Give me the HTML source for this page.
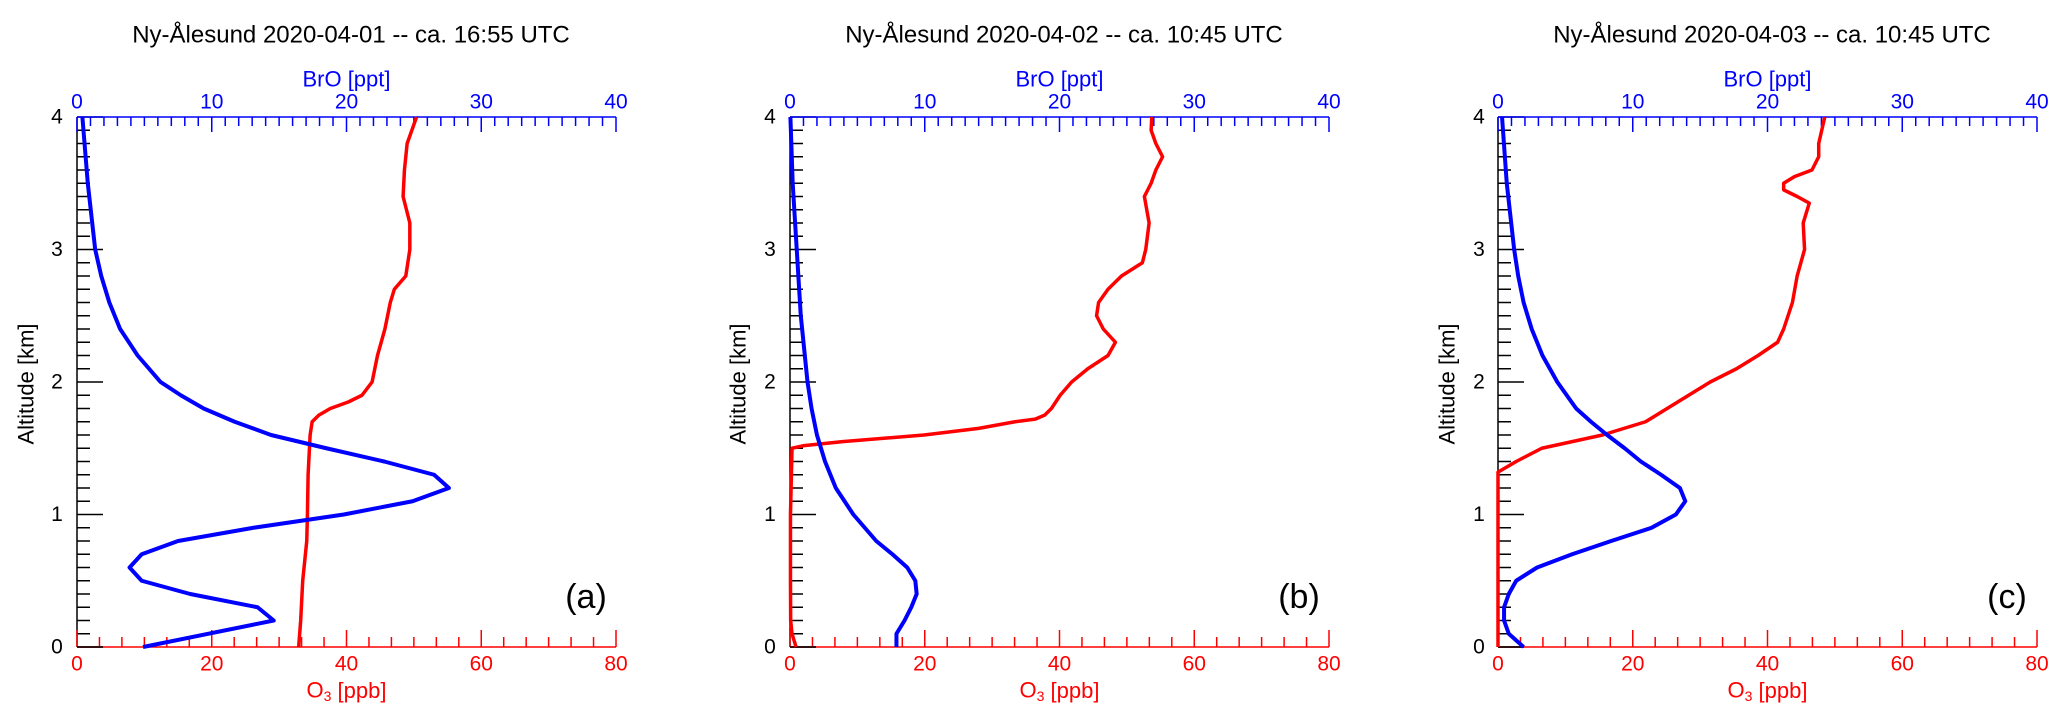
<!DOCTYPE html>
<html><head><meta charset="utf-8"><style>
html,body{margin:0;padding:0;background:#fff}
svg{display:block;font-family:"Liberation Sans",Arial,sans-serif}
</style></head><body>
<svg id="chart" width="2067" height="721" viewBox="0 0 2067 721" xmlns="http://www.w3.org/2000/svg"></svg>
<script>
const panelTitles = ["Ny-Ålesund 2020-04-01 -- ca. 16:55 UTC","Ny-Ålesund 2020-04-02 -- ca. 10:45 UTC","Ny-Ålesund 2020-04-03 -- ca. 10:45 UTC"];
const panelLetters = ["(a)","(b)","(c)"];
const altTicks = [0,1,2,3,4];
const broTicks = [0,10,20,30,40];
const o3Ticks = [0,20,40,60,80];

const broAltA = [0,0.2,0.3,0.4,0.5,0.6,0.7,0.8,0.9,1.0,1.1,1.2,1.3,1.4,1.5,1.6,1.7,1.8,1.9,2.0,2.2,2.4,2.6,2.8,3.0,3.5,4.0];
const broValA = [4.9,14.6,13.4,8.4,4.8,3.9,4.8,7.5,13.1,19.8,24.9,27.6,26.5,22.8,18.5,14.4,11.7,9.4,7.7,6.2,4.5,3.2,2.4,1.8,1.35,0.8,0.4];
const o3AltA = [0,0.2,0.5,0.8,1.0,1.3,1.6,1.7,1.75,1.8,1.85,1.9,2.0,2.2,2.4,2.6,2.7,2.8,3.0,3.2,3.4,3.6,3.8,4.0];
const o3ValA = [32.9,33.2,33.5,34.1,34.2,34.3,34.6,34.9,35.9,37.6,40.3,42.3,43.8,44.6,45.7,46.5,47.1,48.8,49.4,49.4,48.4,48.6,49,50.4];

const broAltB = [0,0.1,0.2,0.3,0.4,0.5,0.6,0.7,0.8,1.0,1.2,1.4,1.6,1.8,2.0,2.5,3.0,3.5,4.0];
const broValB = [7.9,7.9,8.5,9.0,9.4,9.3,8.7,7.6,6.4,4.7,3.4,2.6,2.0,1.6,1.3,0.8,0.5,0.2,0.03];
const o3AltB = [0,0.1,0.2,0.5,1.0,1.5,1.52,1.55,1.6,1.65,1.7,1.72,1.75,1.8,1.9,2.0,2.1,2.2,2.3,2.4,2.5,2.6,2.7,2.8,2.9,3.0,3.2,3.4,3.5,3.6,3.7,3.8,3.9,4.0];
const o3ValB = [0.9,0.3,0.1,0.07,0.07,0.3,2.1,7.8,19.9,28,33.4,36.4,37.8,38.8,40.1,41.8,44.2,47.2,48.3,46.5,45.5,45.8,47.2,49.2,52.3,52.8,53.3,52.6,53.6,54.3,55.3,54.3,53.6,53.7];

const broAltC = [0,0.1,0.2,0.3,0.4,0.5,0.6,0.7,0.8,0.9,1.0,1.1,1.2,1.3,1.4,1.5,1.6,1.7,1.8,2.0,2.2,2.4,2.6,2.8,3.0,3.5,4.0];
const broValC = [1.9,0.8,0.45,0.45,0.8,1.35,2.9,5.5,8.4,11.4,13.2,13.9,13.5,12.1,10.6,9.4,8.1,6.9,5.8,4.4,3.3,2.5,1.9,1.5,1.2,0.65,0.3];
const o3AltC = [0,1.32,1.4,1.5,1.55,1.6,1.65,1.7,1.8,1.9,2.0,2.1,2.2,2.3,2.4,2.6,2.8,3.0,3.2,3.35,3.4,3.45,3.5,3.55,3.6,3.7,3.8,4.0];
const o3ValC = [0,0,2.7,6.5,11,15.5,18.7,21.9,25.1,28.3,31.5,35.4,38.6,41.5,42.4,43.7,44.4,45.5,45.3,46.2,44.4,42.4,42.4,44,46.6,47.6,47.6,48.5];

const panels = [
  {left:77, titleX:351, altX:26, tickX:57, broAlt:broAltA, broVal:broValA, o3Alt:o3AltA, o3Val:o3ValA},
  {left:790, titleX:1064, altX:738, tickX:770, broAlt:broAltB, broVal:broValB, o3Alt:o3AltB, o3Val:o3ValB},
  {left:1498, titleX:1772, altX:1447, tickX:1479, broAlt:broAltC, broVal:broValC, o3Alt:o3AltC, o3Val:o3ValC}
];
const TOP=117, BOT=647, W=539;
const svg=document.getElementById('chart');
const NS='http://www.w3.org/2000/svg';
function mk(tag, attrs, parent){const e=document.createElementNS(NS,tag);for(const k in attrs)e.setAttribute(k,attrs[k]);(parent||svg).appendChild(e);return e;}
function txt(x,y,s,attrs,parent){const t=mk('text',Object.assign({x:x,y:y,'text-anchor':'middle','dominant-baseline':'central'},attrs),parent);t.textContent=s;return t;}

panels.forEach((p,i)=>{
  const g=mk('g',{});
  
  
  const yS=km=>BOT-(km/4)*(BOT-TOP);
  const xB=v=>p.left+v/40*W;
  const xO=v=>p.left+v/80*W;
  const t=txt(p.titleX,35,panelTitles[i],{'font-size':24,fill:'#000'},g);
  
  
  const la=mk('line',{x1:p.left,y1:TOP,x2:p.left,y2:BOT,stroke:'#000','stroke-width':1.5},g);
  
  
  for(let k=0;k<=40;k++){const y=yS(k/10);const len=k%10===0?26:13;mk('line',{x1:p.left,y1:y,x2:p.left+len,y2:y,stroke:'#000','stroke-width':1.5},g);}
  altTicks.forEach(v=>{const l=txt(p.tickX,yS(v),String(v),{'font-size':21,fill:'#000'},g);});
  const at=txt(0,0,'Altitude [km]',{'font-size':22,fill:'#000',transform:`translate(${p.altX},384) rotate(-90)`},g);
  
  
  const ta=mk('line',{x1:p.left,y1:TOP,x2:p.left+W,y2:TOP,stroke:'#00f','stroke-width':1.5},g);
  
  
  for(let k=0;k<=40;k++){const x=xB(k);const len=k%10===0?15:9;mk('line',{x1:x,y1:TOP,x2:x,y2:TOP+len,stroke:'#00f','stroke-width':1.5},g);}
  broTicks.forEach(v=>{const l=txt(xB(v),102,String(v),{'font-size':21,fill:'#00f'},g);});
  const bt=txt(p.left+W/2,79,'BrO [ppt]',{'font-size':22,fill:'#00f'},g);
  
  
  const ba=mk('line',{x1:p.left,y1:BOT,x2:p.left+W,y2:BOT,stroke:'#f00','stroke-width':1.5},g);
  
  
  for(let k=0;k<=24;k++){const x=p.left+k/24*W;const len=k%6===0?17:10;mk('line',{x1:x,y1:BOT,x2:x,y2:BOT-len,stroke:'#f00','stroke-width':1.5},g);}
  mk('line',{x1:p.left,y1:BOT,x2:p.left+26,y2:BOT,stroke:'#000','stroke-width':1.5},g);
  o3Ticks.forEach(v=>{const l=txt(xO(v),664,String(v),{'font-size':21,fill:'#f00'},g);});
  const ot=mk('text',{x:p.left+W/2,y:690,'text-anchor':'middle','dominant-baseline':'central','font-size':22,fill:'#f00'},g);
  ot.innerHTML='O<tspan font-size="14" dy="6">3</tspan><tspan dy="-6"> [ppb]</tspan>';
  
  
  const o3p=mk('polyline',{points:p.o3Alt.map((a,j)=>xO(p.o3Val[j])+','+yS(a)).join(' '),fill:'none',stroke:'#f00','stroke-width':3.5,'stroke-linejoin':'round'},g);
  
  
  const brp=mk('polyline',{points:p.broAlt.map((a,j)=>xB(p.broVal[j])+','+yS(a)).join(' '),fill:'none',stroke:'#00f','stroke-width':4,'stroke-linejoin':'round'},g);
  
  
  const pl=txt(p.left+W-30,597,panelLetters[i],{'font-size':34,fill:'#000'},g);
  
  
});
</script>
</body></html>
